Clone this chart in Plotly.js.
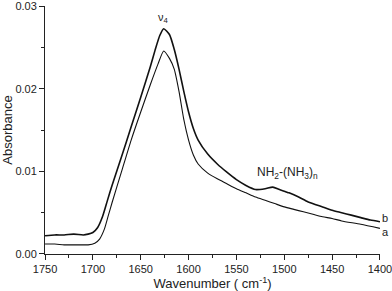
<!DOCTYPE html>
<html>
<head>
<meta charset="utf-8">
<script src="https://cdn.plot.ly/plotly-3.0.1.min.js"></script>
<style>html,body{margin:0;padding:0;background:#fff;}#chart{width:392px;height:291px;}</style>
</head>
<body>
<div id="chart"></div>
<script>
const wavenumberB = [1750,1740,1730,1720,1710,1705,1700,1695,1690,1685,1680,1670,1660,1650,1640,1635,1630,1626,1620,1615,1610,1605,1600,1595,1590,1580,1570,1560,1550,1540,1530,1520,1512,1505,1495,1485,1475,1460,1450,1440,1430,1420,1410,1400];
const absorbanceB = [0.0022,0.0023,0.0023,0.0024,0.0023,0.0024,0.0026,0.0032,0.0045,0.0064,0.0083,0.0118,0.0154,0.0190,0.0227,0.0247,0.0265,0.0273,0.0266,0.0248,0.0224,0.0197,0.0172,0.0152,0.0138,0.0121,0.0109,0.0099,0.0090,0.0083,0.0078,0.0079,0.0081,0.0078,0.0074,0.0069,0.0063,0.0057,0.0053,0.0050,0.0047,0.0044,0.0041,0.0039];
const wavenumberA = [1750,1740,1730,1720,1710,1705,1698,1693,1688,1684,1680,1670,1660,1650,1640,1632,1626,1620,1615,1610,1605,1600,1595,1590,1580,1570,1560,1550,1540,1530,1520,1510,1500,1490,1480,1470,1460,1450,1440,1420,1400];
const absorbanceA = [0.0012,0.0012,0.0011,0.0011,0.0011,0.0011,0.0013,0.0018,0.0030,0.0046,0.0062,0.0100,0.0138,0.0172,0.0205,0.0230,0.0246,0.0237,0.0224,0.0197,0.0163,0.0138,0.0120,0.0109,0.0098,0.0091,0.0085,0.0079,0.0074,0.0069,0.0065,0.0061,0.0057,0.0054,0.0051,0.0048,0.0045,0.0043,0.0040,0.0036,0.0031];
const xTicks = [1750,1700,1650,1600,1550,1500,1450,1400];
const yTicks = [0.00,0.01,0.02,0.03];
const yTickLabels = ["0.00","0.01","0.02","0.03"];

const font = {family: "Liberation Sans, Arial, sans-serif", color: "#222"};
const data = [
  {x: wavenumberB, y: absorbanceB, mode: "lines", line: {color: "#111", width: 1.6, shape: "spline", smoothing: 0.6}, name: "b", hoverinfo: "skip", cliponaxis: false},
  {x: wavenumberA, y: absorbanceA, mode: "lines", line: {color: "#111", width: 1.1, shape: "spline", smoothing: 0.6}, name: "a", hoverinfo: "skip", cliponaxis: false}
];
const layout = {
  width: 392, height: 291,
  margin: {l: 45, r: 12, t: 6, b: 37},
  paper_bgcolor: "#fff", plot_bgcolor: "#fff",
  showlegend: false,
  font: Object.assign({size: 11}, font),
  xaxis: {
    range: [1750.05, 1399.95], tickvals: xTicks, ticktext: xTicks.map(String),
    showgrid: false, zeroline: false, showline: true, linecolor: "#222", linewidth: 1,
    ticks: "outside", ticklen: 5, tickcolor: "#222", ticklabeloverflow: "allow",
    minor: {ticks: "outside", ticklen: 3, dtick: 25, tick0: 1400, tickcolor: "#222", showgrid: false},
    tickfont: {size: 11, family: font.family, color: "#222"},
    title: {text: "Wavenumber ( cm<sup>-1</sup>)", font: {size: 13, family: font.family, color: "#222"}, standoff: 6}
  },
  yaxis: {
    range: [-0.00001, 0.03005], tickvals: yTicks, ticktext: yTickLabels,
    showgrid: false, zeroline: false, showline: true, linecolor: "#222", linewidth: 1,
    ticks: "outside", ticklen: 5, tickcolor: "#222", ticklabeloverflow: "allow",
    minor: {ticks: "outside", ticklen: 3, dtick: 0.005, tick0: 0, tickcolor: "#222", showgrid: false},
    tickfont: {size: 11, family: font.family, color: "#222"},
    title: {text: "Absorbance", font: {size: 13, family: font.family, color: "#222"}, standoff: 6}
  },
  annotations: [
    {x: 1626, y: 0.0286, xref: "x", yref: "y", text: "ν<sub>4</sub>", showarrow: false, font: {size: 11, family: font.family, color: "#222"}},
    {x: 1497, y: 0.0098, xref: "x", yref: "y", text: "NH<sub>2</sub>-(NH<sub>3</sub>)<sub>n</sub>", showarrow: false, font: {size: 12, family: font.family, color: "#222"}},
    {x: 1, y: 0.0043, xref: "paper", yref: "y", xanchor: "left", xshift: 0, text: "b", showarrow: false, font: {size: 11, family: font.family, color: "#222"}},
    {x: 1, y: 0.0027, xref: "paper", yref: "y", xanchor: "left", xshift: 0, text: "a", showarrow: false, font: {size: 11, family: font.family, color: "#222"}}
  ]
};
Plotly.newPlot("chart", data, layout, {displayModeBar: false, staticPlot: true});
</script>
</body>
</html>
